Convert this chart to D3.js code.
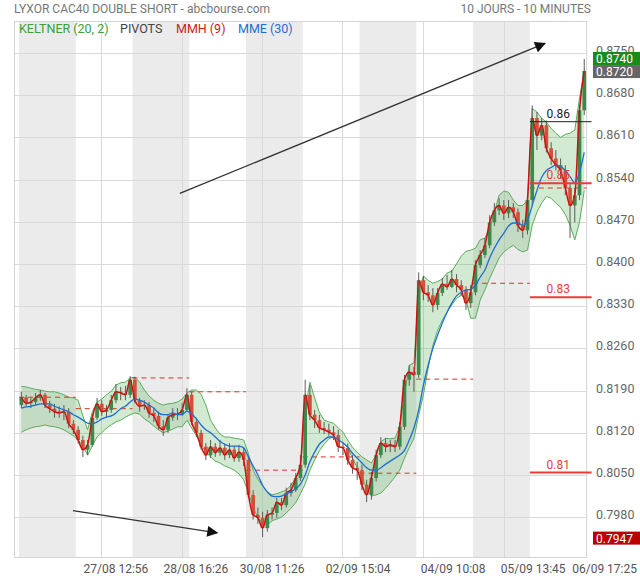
<!DOCTYPE html>
<html><head><meta charset="utf-8">
<script src="https://cdn.jsdelivr.net/npm/d3@7"></script>
<style>
body{margin:0;background:#fff;}
svg{display:block;font-family:Roboto,"Noto Sans",sans-serif;}
</style>
</head><body>
<svg id="chart" width="640" height="580"></svg>
<script>
// ---------- DATA (10 days, 12 bars per day) ----------
const openP = [
0.8166,0.8179,0.8169,0.8171,0.8178,0.8183,0.8166,0.8160,0.8155,0.8153,0.8155,0.8135,
0.8125,0.8108,0.8092,0.8100,0.8145,0.8168,0.8155,0.8158,0.8174,0.8188,0.8186,0.8183,
0.8208,0.8174,0.8164,0.8166,0.8153,0.8148,0.8131,0.8125,0.8145,0.8150,0.8151,0.8158,
0.8183,0.8138,0.8120,0.8097,0.8083,0.8097,0.8087,0.8095,0.8083,0.8092,0.8078,0.8088,
0.8075,0.8017,0.7984,0.7979,0.7962,0.7984,0.7987,0.8005,0.8000,0.8020,0.8025,0.8045,
0.8067,0.8183,0.8150,0.8141,0.8128,0.8125,0.8121,0.8116,0.8097,0.8095,0.8075,0.8062,
0.8058,0.8034,0.8017,0.8045,0.8083,0.8103,0.8097,0.8100,0.8097,0.8130,0.8208,0.8221,
0.8216,0.8373,0.8353,0.8348,0.8332,0.8352,0.8367,0.8362,0.8375,0.8365,0.8357,0.8335,
0.8353,0.8398,0.8415,0.8431,0.8469,0.8489,0.8497,0.8484,0.8494,0.8486,0.8464,0.8456,
0.8506,0.8642,0.8613,0.8630,0.8592,0.8575,0.8564,0.8555,0.8526,0.8497,0.8514,0.8655];
const closeP = [
0.8179,0.8169,0.8171,0.8178,0.8183,0.8166,0.8160,0.8155,0.8153,0.8155,0.8135,0.8125,
0.8108,0.8092,0.8100,0.8145,0.8168,0.8155,0.8158,0.8174,0.8188,0.8186,0.8183,0.8208,
0.8174,0.8164,0.8166,0.8153,0.8148,0.8131,0.8125,0.8145,0.8150,0.8151,0.8158,0.8183,
0.8138,0.8120,0.8097,0.8083,0.8097,0.8087,0.8095,0.8083,0.8092,0.8078,0.8088,0.8075,
0.8017,0.7984,0.7979,0.7962,0.7984,0.7987,0.8005,0.8000,0.8020,0.8025,0.8045,0.8067,
0.8183,0.8150,0.8141,0.8128,0.8125,0.8121,0.8116,0.8097,0.8095,0.8075,0.8062,0.8058,
0.8034,0.8017,0.8045,0.8083,0.8103,0.8097,0.8100,0.8097,0.8130,0.8208,0.8221,0.8216,
0.8373,0.8353,0.8348,0.8332,0.8352,0.8367,0.8362,0.8375,0.8365,0.8357,0.8335,0.8353,
0.8398,0.8415,0.8431,0.8469,0.8489,0.8497,0.8484,0.8494,0.8486,0.8464,0.8456,0.8506,
0.8642,0.8613,0.8630,0.8592,0.8575,0.8564,0.8555,0.8526,0.8497,0.8514,0.8655,0.8720];
const highP = [
0.8188,0.8183,0.8178,0.8186,0.8191,0.8186,0.8173,0.8168,0.8164,0.8166,0.8161,0.8141,
0.8131,0.8115,0.8108,0.8151,0.8178,0.8174,0.8166,0.8183,0.8201,0.8196,0.8198,0.8214,
0.8213,0.8178,0.8174,0.8171,0.8161,0.8155,0.8141,0.8151,0.8161,0.8161,0.8169,0.8194,
0.8188,0.8145,0.8125,0.8103,0.8108,0.8103,0.8108,0.8102,0.8103,0.8098,0.8100,0.8095,
0.8082,0.8025,0.7996,0.7989,0.7992,0.7996,0.8012,0.8012,0.8029,0.8037,0.8053,0.8083,
0.8208,0.8199,0.8158,0.8150,0.8138,0.8135,0.8131,0.8125,0.8105,0.8102,0.8083,0.8072,
0.8067,0.8042,0.8055,0.8092,0.8113,0.8111,0.8108,0.8108,0.8138,0.8216,0.8232,0.8229,
0.8386,0.8380,0.8365,0.8360,0.8360,0.8377,0.8382,0.8390,0.8383,0.8373,0.8363,0.8365,
0.8406,0.8423,0.8443,0.8481,0.8501,0.8509,0.8506,0.8506,0.8501,0.8492,0.8473,0.8514,
0.8663,0.8652,0.8642,0.8638,0.8602,0.8589,0.8575,0.8564,0.8534,0.8526,0.8663,0.8740];
const lowP = [
0.8161,0.8164,0.8161,0.8166,0.8173,0.8161,0.8153,0.8145,0.8145,0.8141,0.8128,0.8118,
0.8102,0.8080,0.8083,0.8097,0.8141,0.8148,0.8145,0.8153,0.8169,0.8174,0.8174,0.8178,
0.8169,0.8155,0.8158,0.8145,0.8138,0.8125,0.8115,0.8120,0.8140,0.8141,0.8148,0.8155,
0.8133,0.8113,0.8092,0.8075,0.8078,0.8080,0.8082,0.8075,0.8078,0.8072,0.8072,0.8065,
0.8012,0.7976,0.7969,0.7947,0.7956,0.7976,0.7979,0.7992,0.7996,0.8014,0.8022,0.8040,
0.8062,0.8141,0.8128,0.8120,0.8118,0.8115,0.8108,0.8088,0.8083,0.8067,0.8052,0.8042,
0.8025,0.8005,0.8009,0.8039,0.8078,0.8088,0.8088,0.8088,0.8092,0.8125,0.8198,0.8188,
0.8211,0.8340,0.8337,0.8320,0.8324,0.8347,0.8357,0.8360,0.8353,0.8347,0.8324,0.8327,
0.8348,0.8393,0.8410,0.8426,0.8463,0.8481,0.8473,0.8476,0.8476,0.8453,0.8443,0.8449,
0.8497,0.8589,0.8605,0.8585,0.8564,0.8555,0.8542,0.8514,0.8443,0.8469,0.8506,0.8647];
const keltnerUpper = [
0.8197,0.8196,0.8194,0.8192,0.8191,0.8189,0.8188,0.8188,0.8186,0.8183,0.8179,0.8178,
0.8174,0.8148,0.8125,0.8155,0.8171,0.8176,0.8183,0.8189,0.8199,0.8203,0.8204,0.8211,
0.8212,0.8204,0.8191,0.8181,0.8174,0.8169,0.8166,0.8168,0.8169,0.8171,0.8176,0.8186,
0.8191,0.8191,0.8184,0.8166,0.8141,0.8128,0.8118,0.8113,0.8113,0.8111,0.8110,0.8108,
0.8086,0.8058,0.8043,0.8032,0.8022,0.8017,0.8019,0.8022,0.8025,0.8033,0.8045,0.8063,
0.8158,0.8204,0.8178,0.8154,0.8141,0.8138,0.8136,0.8128,0.8121,0.8108,0.8096,0.8088,
0.8080,0.8075,0.8070,0.8083,0.8105,0.8111,0.8110,0.8111,0.8130,0.8183,0.8232,0.8236,
0.8356,0.8380,0.8373,0.8368,0.8371,0.8375,0.8385,0.8388,0.8400,0.8413,0.8421,0.8423,
0.8426,0.8440,0.8443,0.8459,0.8486,0.8514,0.8521,0.8519,0.8506,0.8497,0.8497,0.8506,
0.8658,0.8652,0.8642,0.8635,0.8625,0.8617,0.8610,0.8615,0.8617,0.8622,0.8675,0.8721];
const keltnerLower = [
0.8121,0.8125,0.8128,0.8130,0.8131,0.8133,0.8131,0.8130,0.8128,0.8125,0.8120,0.8115,
0.8108,0.8098,0.8083,0.8098,0.8113,0.8120,0.8128,0.8133,0.8138,0.8141,0.8146,0.8150,
0.8153,0.8151,0.8143,0.8138,0.8131,0.8125,0.8120,0.8123,0.8126,0.8130,0.8130,0.8141,
0.8128,0.8115,0.8100,0.8088,0.8080,0.8073,0.8070,0.8065,0.8062,0.8058,0.8052,0.8042,
0.8020,0.7997,0.7979,0.7970,0.7967,0.7974,0.7977,0.7980,0.7987,0.7995,0.8004,0.8019,
0.8035,0.8058,0.8075,0.8090,0.8101,0.8110,0.8113,0.8110,0.8103,0.8096,0.8078,0.8062,
0.8047,0.8027,0.8015,0.8017,0.8020,0.8028,0.8037,0.8047,0.8058,0.8078,0.8095,0.8111,
0.8149,0.8183,0.8227,0.8265,0.8290,0.8307,0.8320,0.8332,0.8343,0.8348,0.8340,0.8310,
0.8310,0.8340,0.8357,0.8376,0.8393,0.8410,0.8420,0.8426,0.8431,0.8424,0.8420,0.8423,
0.8464,0.8486,0.8501,0.8512,0.8509,0.8501,0.8494,0.8482,0.8464,0.8440,0.8469,0.8522];
const mme30 = [
0.8161,0.8163,0.8164,0.8166,0.8168,0.8168,0.8168,0.8164,0.8161,0.8158,0.8155,0.8150,
0.8146,0.8141,0.8136,0.8135,0.8138,0.8143,0.8146,0.8148,0.8153,0.8160,0.8164,0.8171,
0.8176,0.8174,0.8171,0.8166,0.8161,0.8153,0.8150,0.8150,0.8153,0.8150,0.8150,0.8156,
0.8151,0.8143,0.8133,0.8125,0.8120,0.8113,0.8106,0.8101,0.8098,0.8098,0.8098,0.8095,
0.8080,0.8065,0.8050,0.8033,0.8022,0.8015,0.8014,0.8015,0.8019,0.8022,0.8027,0.8035,
0.8050,0.8072,0.8088,0.8101,0.8108,0.8113,0.8113,0.8108,0.8103,0.8096,0.8086,0.8078,
0.8070,0.8062,0.8058,0.8058,0.8062,0.8068,0.8073,0.8078,0.8083,0.8091,0.8108,0.8128,
0.8158,0.8199,0.8232,0.8260,0.8282,0.8302,0.8320,0.8335,0.8347,0.8353,0.8357,0.8358,
0.8365,0.8378,0.8390,0.8410,0.8426,0.8440,0.8451,0.8463,0.8468,0.8468,0.8464,0.8472,
0.8497,0.8522,0.8544,0.8555,0.8560,0.8564,0.8562,0.8555,0.8545,0.8535,0.8552,0.8585];

const barsPerDay = 12;
const dayPivot = [0.8179,0.8160,0.8211,0.8188,0.8058,0.8080,0.8053,0.8209,0.8368,0.8526];
const pivotLabels = ["0.86","0.85","0.83","0.81"];
const pivotValues = [0.8636,0.8534,0.8345,0.8054];
const yTicks = [0.7980,0.8050,0.8120,0.8190,0.8260,0.8330,0.8400,0.8470,0.8540,0.8610,0.8680,0.8750];
const xGridIdx = [16.8,34,50.9,67.8,84.9,102];
const xTickIdx = [20,36.9,53,71.2,91.3,108.2];
const xTickLabels = ["27/08 12:56","28/08 16:26","30/08 11:26","02/09 15:04","04/09 10:08","05/09 13:45"];
const lastLabel = "06/09 17:25";
const arrowFrom = [[33.5,0.8517],[10.9,0.7991]];
const arrowTo   = [[110.7,0.8766],[41.4,0.7954]];
const highestHigh = 0.8740, lastClose = 0.8720, lowestLow = 0.7947;

// ---------- CHART ----------
const svg = d3.select("#chart");
const N = closeP.length;
const L = 19, R = 586.6, T = 21, B = 557;
const x = d3.scaleLinear().domain([-0.5, N-0.5]).range([L, R]);
const y = d3.scaleLinear().domain([0.7914, 0.8803]).range([B, T]);
const fmt = d3.format(".4f");

// day bands
const days = d3.range(N / barsPerDay);
svg.append("g").selectAll("rect").data(days.filter(d => d % 2 === 0)).join("rect")
  .attr("x", d => x(d*barsPerDay - 0.5)).attr("width", d => x((d+1)*barsPerDay - 0.5) - x(d*barsPerDay - 0.5))
  .attr("y", T).attr("height", B - T).attr("fill", "#ebebeb");

// grid
const grid = svg.append("g").attr("stroke", "#d9d9d9").attr("stroke-width", 1);
grid.selectAll(".h").data(yTicks).join("line")
  .attr("x1", 15).attr("x2", R).attr("y1", d => Math.round(y(d))+0.5).attr("y2", d => Math.round(y(d))+0.5);
grid.selectAll(".v").data(xGridIdx).join("line")
  .attr("x1", d => Math.round(x(d))+0.5).attr("x2", d => Math.round(x(d))+0.5).attr("y1", T).attr("y2", B);
svg.append("rect").attr("x", 14.5).attr("y", T+0.5).attr("width", R - 14.5).attr("height", B - T)
  .attr("fill", "none").attr("stroke", "#d4d4d4");

// Keltner band
const idx = d3.range(N);
svg.append("path").datum(idx)
  .attr("d", d3.area().x(i => x(i)).y0(i => y(keltnerLower[i])).y1(i => y(keltnerUpper[i])))
  .attr("fill", "rgba(70,170,70,0.25)");
const lineOf = arr => d3.line().x(i => x(i)).y(i => y(arr[i]));
[keltnerUpper, keltnerLower].forEach(a => svg.append("path").datum(idx).attr("d", lineOf(a))
  .attr("fill", "none").attr("stroke", "#5aad5a").attr("stroke-width", 1));

// day pivot dashed lines
svg.append("g").selectAll("line").data(days).join("line")
  .attr("x1", d => x(d*barsPerDay - 0.5)).attr("x2", d => x((d+1)*barsPerDay - 0.5))
  .attr("y1", d => y(dayPivot[d])).attr("y2", d => y(dayPivot[d]))
  .attr("stroke", "#e0302a").attr("stroke-width", 1).attr("stroke-dasharray", "5,4");

// candles
const bw = (x(1) - x(0)) * 0.78;
const cg = svg.append("g");
cg.selectAll("line").data(idx).join("line")
  .attr("x1", i => x(i)).attr("x2", i => x(i)).attr("y1", i => y(highP[i])).attr("y2", i => y(lowP[i]))
  .attr("stroke", "#5b5b5b").attr("stroke-width", 1);
cg.selectAll("rect").data(idx).join("rect")
  .attr("x", i => x(i) - bw/2).attr("width", bw)
  .attr("y", i => y(Math.max(openP[i], closeP[i])))
  .attr("height", i => Math.max(1, Math.abs(y(openP[i]) - y(closeP[i]))))
  .attr("fill", i => closeP[i] >= openP[i] ? "#3a8a4e" : "#d2503a");

// MMH (red) and MME (blue)
svg.append("path").datum(idx).attr("d", lineOf(closeP).curve(d3.curveMonotoneX))
  .attr("fill", "none").attr("stroke", "#cc1111").attr("stroke-width", 1.5);
svg.append("path").datum(idx).attr("d", lineOf(mme30).curve(d3.curveMonotoneX))
  .attr("fill", "none").attr("stroke", "#1f6fd1").attr("stroke-width", 1.3);

// last day pivot levels
const pg = svg.append("g");
const px1 = x((N/barsPerDay - 1)*barsPerDay - 0.5), px2 = R + 5;
pivotValues.forEach((v, k) => {
  const col = k === 0 ? "#222" : "#f03a3a";
  pg.append("line").attr("x1", px1).attr("x2", px2).attr("y1", y(v)).attr("y2", y(v))
    .attr("stroke", col).attr("stroke-width", k === 0 ? 1 : 2);
  pg.append("text").attr("x", (px1 + R)/2).attr("y", y(v) - 4).attr("text-anchor", "middle")
    .attr("font-size", 12).attr("fill", col).text(pivotLabels[k]);
});

// arrows
const defs = svg.append("defs");
defs.append("marker").attr("id", "ah").attr("viewBox", "0 0 10 10").attr("refX", 9).attr("refY", 5)
  .attr("markerWidth", 15).attr("markerHeight", 11).attr("markerUnits", "userSpaceOnUse").attr("orient", "auto")
  .append("path").attr("d", "M0,0 L10,5 L0,10 z").attr("fill", "#111");
arrowFrom.forEach((f, k) => {
  svg.append("line").attr("x1", x(f[0])).attr("y1", y(f[1])).attr("x2", x(arrowTo[k][0])).attr("y2", y(arrowTo[k][1]))
    .attr("stroke", "#333").attr("stroke-width", 1.3).attr("marker-end", "url(#ah)");
});

// y axis labels
const ya = svg.append("g").attr("font-size", 12.5).attr("fill", "#666");
ya.selectAll("text").data(yTicks).join("text")
  .attr("x", 596).attr("y", d => y(d) + 2).text(d => fmt(d));
const boxes = [[highestHigh, "#1a8a1a", -0.5], [lastClose, "#666666", 0.5]];
boxes.push([lowestLow, "#b80000", 1]);
boxes.forEach(([v, c, off]) => {
  const g = svg.append("g");
  const cy = y(v) + off;
  g.append("rect").attr("x", 593).attr("y", cy - 6.5).attr("width", 47).attr("height", 13).attr("fill", c);
  g.append("text").attr("x", 596).attr("y", cy + 4.5).attr("font-size", 12).attr("fill", "#fff").text(fmt(v));
});

// x axis labels
const xa = svg.append("g").attr("font-size", 12).attr("fill", "#555");
xa.selectAll("text").data(xTickIdx).join("text")
  .attr("x", d => x(d)).attr("y", 573).attr("text-anchor", "middle").text((d, k) => xTickLabels[k]);
xa.append("text").attr("x", 637).attr("y", 573).attr("text-anchor", "end").text(lastLabel);

// titles
svg.append("text").attr("x", 14).attr("y", 13).attr("font-size", 12).attr("fill", "#777")
  .text("LYXOR CAC40 DOUBLE SHORT - abcbourse.com");
svg.append("text").attr("x", 591).attr("y", 13).attr("font-size", 12).attr("fill", "#777")
  .attr("text-anchor", "end").text("10 JOURS - 10 MINUTES");

// legend
const leg = [["KELTNER (20, 2)", "#3aa03a", 19], ["PIVOTS", "#444", 120], ["MMH (9)", "#cc2222", 176], ["MME (30)", "#1f6fd1", 238]];
leg.forEach(([t, c, lx]) => svg.append("text").attr("x", lx).attr("y", 33).attr("font-size", 12.5).attr("fill", c).text(t));
</script>
</body></html>
